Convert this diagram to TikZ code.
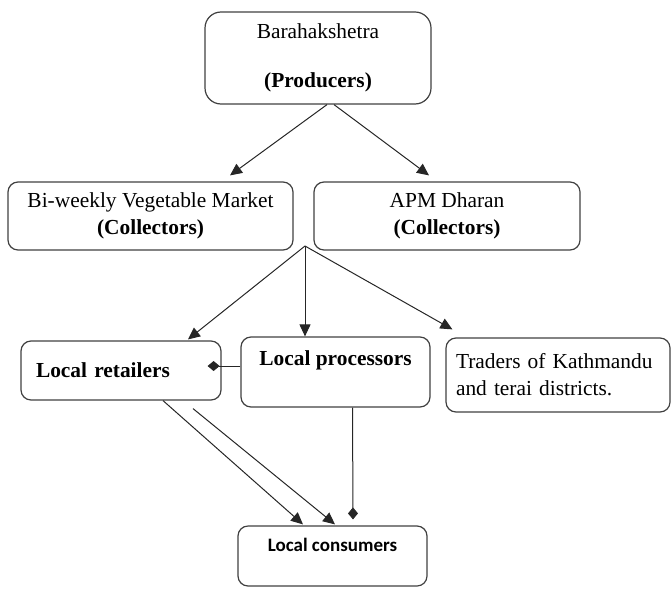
\documentclass[tikz,border=0pt]{standalone}
\usepackage{fontspec}
\setmainfont{Liberation Serif}
\newfontfamily\calibri{Carlito}
\usetikzlibrary{arrows.meta,calc}

\begin{document}
\begin{tikzpicture}[x=0.5pt, y=-0.5pt,
    mybox/.style={draw=black!75, line width=0.6pt, rounded corners=5pt, align=center, inner sep=0pt, font=\fontsize{10.7}{13.5}\selectfont},
    myarrow/.style={draw=black!85, line width=0.5pt, -{Triangle[length=6pt,width=5.5pt]}},
    mydiamond/.style={draw=black!85, line width=0.5pt, -{Diamond[length=6pt,width=5pt]}}]
    \useasboundingbox (0,0) rectangle (672,588);
    \node[mybox, minimum width=113pt, minimum height=46pt, rounded corners=8pt] (prod) at (318,58) {Barahakshetra\\[11pt]\textbf{(Producers)}};
    \node[mybox, minimum width=142.5pt, minimum height=34pt] (biweekly) at (150.5,216) {Bi-weekly Vegetable Market\\\textbf{(Collectors)}};
    \node[mybox, minimum width=133pt, minimum height=34pt] (apm) at (447,216) {APM Dharan\\\textbf{(Collectors)}};
    \coordinate (fork) at (305,246);
    \node[mybox, minimum width=100pt, minimum height=29.5pt, text width=85pt, align=left] (retail) at (121,370.5) {\textbf{Local retailers}};
    \node[mybox, minimum width=94.5pt, minimum height=35pt] (proc) at (335.5,372) {\textbf{Local processors}\\\mbox{}};
    \node[mybox, minimum width=112pt, minimum height=37pt, text width=102pt, align=left] (traders) at (558,375) {Traders of Kathmandu\\and terai districts.};
    \node[mybox, minimum width=94.5pt, minimum height=30pt, font=\calibri\fontsize{9.5}{11}\selectfont] (cons) at (332.5,556) {\textbf{Local consumers}\\\mbox{}};
    % collectors
    \draw[myarrow] ($(prod.south)+(9,0)$) -- ($(biweekly.north)+(79.5,-6)$);
    \draw[myarrow] ($(prod.south)+(16,0)$) -- ($(apm.north)+(-18,-6)$);
    % buyers
    \draw[myarrow] (fork) -- ($(retail.north)+(67,-1)$);
    \draw[myarrow] (fork) -- ($(proc.north)+(-30.5,0)$);
    \draw[myarrow] (fork) -- ($(traders.north west)+(7,-8)$);
    \draw[mydiamond] ($(proc.west)+(0,-6)$) -- ($(retail.east)+(-14,-4.5)$);
    % consumers
    \draw[myarrow] ($(retail.south)+(42,0)$) -- ($(cons.north)+(-29.5,-1)$);
    \draw[myarrow] ($(retail.south)+(72,8)$) -- ($(cons.north)+(2.5,-1)$);
    \draw[mydiamond] ($(proc.south)+(17,0)$) -- ($(cons.north)+(20.5,-6)$);
\end{tikzpicture}
\end{document}
